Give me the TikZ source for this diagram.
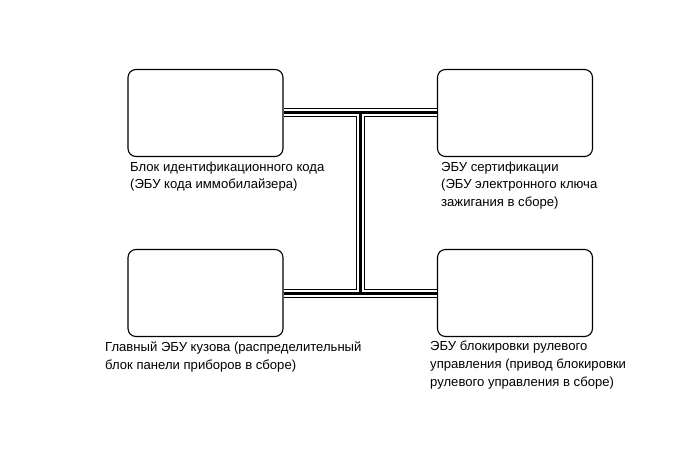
\documentclass[tikz,border=0pt]{standalone}
\usepackage{fontspec}
\setmainfont{Liberation Sans}
\usetikzlibrary{positioning}
\tikzset{
  ecubox/.style={draw=black, line width=1.1pt, rounded corners=8pt,
                 minimum width=155pt, minimum height=87pt, inner sep=0pt},
  ecutext/.style={anchor=north west, inner sep=0pt, align=left,
                  font=\fontsize{13.1pt}{17.8pt}\selectfont},
  bus/.style={line width=3pt, black,
              preaction={draw, line width=9pt, black},
              preaction={draw, line width=7pt, white}}
}
\begin{document}
\begin{tikzpicture}[x=1pt, y=-1pt]
  \useasboundingbox (0,0) rectangle (691,465);

  \node[ecubox] (immo) at (205.5,113) {};
  \node[ecubox] (cert) at (515,113) {};
  \node[ecubox] (body) at (205.5,293) {};
  \node[ecubox] (steer) at (515,293) {};

  \coordinate (jtop) at (360,113);
  \coordinate (jbot) at (360,293);

  % bus lines
  \draw[bus] (immo.east) -- (cert.west)
             (body.east) -- (steer.west)
             (jtop) -- (jbot);

  \node[ecutext] (immolbl) at (130,161.5)
    {Блок идентификационного кода\\(ЭБУ кода иммобилайзера)};
  \node[ecutext] (certlbl) at (441,161.5)
    {ЭБУ сертификации\\(ЭБУ электронного ключа\\зажигания в сборе)};
  \node[ecutext] (bodylbl) at (105,342)
    {Главный ЭБУ кузова (распределительный\\блок панели приборов в сборе)};
  \node[ecutext] (steerlbl) at (430,341)
    {ЭБУ блокировки рулевого\\управления (привод блокировки\\рулевого управления в сборе)};

\end{tikzpicture}
\end{document}
